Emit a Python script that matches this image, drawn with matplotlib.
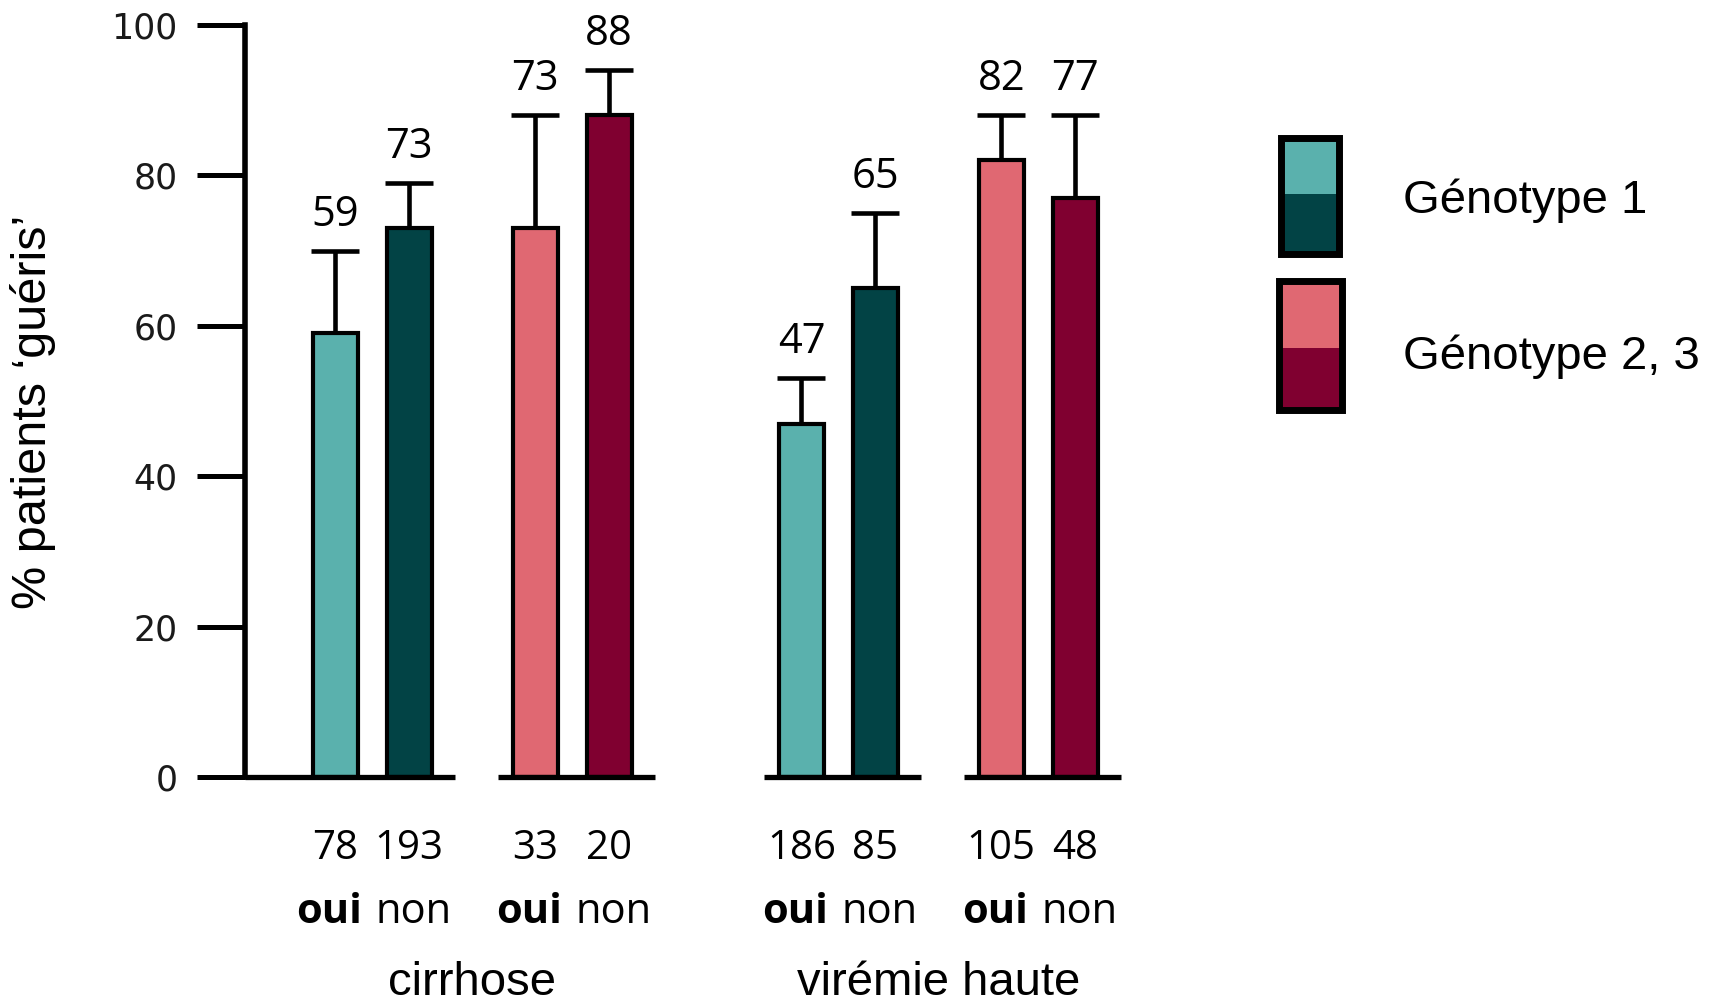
import matplotlib
matplotlib.use("Agg")
import matplotlib.pyplot as plt
from matplotlib.patches import Rectangle
from matplotlib import transforms

# Taux de guérison (%) par sous-groupe : [cirrhose oui, cirrhose non, virémie oui, virémie non]
groupes = ["cirrhose", "virémie haute"]
reponses = ["oui", "non"]
genotypes = ["Génotype 1", "Génotype 2, 3"]

taux_g1 = [59, 73, 47, 65]
taux_g23 = [73, 88, 82, 77]
err_g1 = [11, 6, 6, 10]
err_g23 = [15, 6, 6, 11]
n_g1 = [78, 193, 186, 85]
n_g23 = [33, 20, 105, 48]

couleurs_g1 = ["#5AB1AD", "#024345"]
couleurs_g23 = ["#E06872", "#800030"]

taux = [taux_g1, taux_g23]
erreurs = [err_g1, err_g23]
effectifs = [n_g1, n_g23]
couleurs = [couleurs_g1, couleurs_g23]

W, H = 1719, 1007
fig = plt.figure(figsize=(W / 100, H / 100), dpi=100)

ecart_groupe = 6.3
ecart_paire = 2.7
largeur = 0.61
xmin, xmax = -1.22, 10.8
ax = fig.add_axes([245 / W, 1 - 777 / H, (xmax - xmin) * 74 / W, 752 / H])

trans_txt = transforms.blended_transform_factory(ax.transData, fig.transFigure)

for g, groupe in enumerate(groupes):
    xs_groupe = []
    for p in range(len(genotypes)):
        xs = []
        for b, rep in enumerate(reponses):
            i = 2 * g + b
            x = g * ecart_groupe + p * ecart_paire + b
            xs.append(x)
            v = taux[p][i]
            e = erreurs[p][i]
            ax.errorbar(x, v, yerr=[[0], [e]], fmt="none", ecolor="black",
                        elinewidth=3.3, capsize=17, capthick=3.3, zorder=1)
            ax.bar(x, v, width=largeur, color=couleurs[p][b],
                   edgecolor="black", linewidth=3, zorder=2)
            ax.annotate(str(v), (x, v + e), xytext=(0, 18), textcoords="offset points",
                        ha="center", va="baseline", fontsize=30,
                        family="Open Sans", annotation_clip=False)
            ax.text(x, 0.147, str(effectifs[p][i]), transform=trans_txt,
                    ha="center", va="baseline", fontsize=29, family="Open Sans")
            decal = -0.08 if rep == "oui" else 0.06
            ax.text(x + decal, 0.083, rep, transform=trans_txt, ha="center",
                    va="baseline", fontsize=30, family="Open Sans",
                    fontweight="bold" if rep == "oui" else "normal")
        # segment de ligne de base sous chaque paire de barres
        debut = xmin if (g == 0 and p == 0) else xs[0] - 0.5
        ax.hlines(0, debut, xs[-1] + 0.62, color="black", linewidth=3.8,
                  zorder=3, clip_on=False)
        xs_groupe += xs
    centre = (xs_groupe[0] + xs_groupe[-1]) / 2
    ax.text(centre, 0.002, groupe, transform=trans_txt, ha="center",
            va="bottom", fontsize=34, family="Liberation Sans")

ax.set_xlim(xmin, xmax)
ax.set_ylim(0, 100)
ax.set_yticks([0, 20, 40, 60, 80, 100])
ax.set_xticks([])
for s in ["top", "right", "bottom"]:
    ax.spines[s].set_visible(False)
ax.spines["left"].set_linewidth(4)
ax.tick_params(axis="y", length=34.5, width=3.6, pad=14, labelsize=25,
               labelcolor="#1a1a1a")
for lab in ax.get_yticklabels():
    lab.set_family("DejaVu Sans")

fig.text(33 / W, 1 - 412 / H, "% patients ‘guéris’", rotation=90,
         ha="center", va="center", fontsize=35, family="Liberation Sans")

# légende : un rectangle bicolore par génotype
boites = [(1281, 138, 1339, 254, 194, 213), (1279, 281, 1342, 410, 348, 369)]
for (x0, y0, x1, y1, ym, yb), cols, nom in zip(boites, couleurs, genotypes):
    fig.add_artist(Rectangle((x0 / W, 1 - ym / H), (x1 - x0) / W, (ym - y0) / H,
                             transform=fig.transFigure, facecolor=cols[0],
                             edgecolor="none"))
    fig.add_artist(Rectangle((x0 / W, 1 - y1 / H), (x1 - x0) / W, (y1 - ym) / H,
                             transform=fig.transFigure, facecolor=cols[1],
                             edgecolor="none"))
    fig.add_artist(Rectangle((x0 / W, 1 - y1 / H), (x1 - x0) / W, (y1 - y0) / H,
                             transform=fig.transFigure, facecolor="none",
                             edgecolor="black", linewidth=5))
    fig.text(1403 / W, 1 - yb / H, nom, ha="left", va="baseline",
             fontsize=34, family="Liberation Sans")

fig.savefig("out.png", dpi=100)
